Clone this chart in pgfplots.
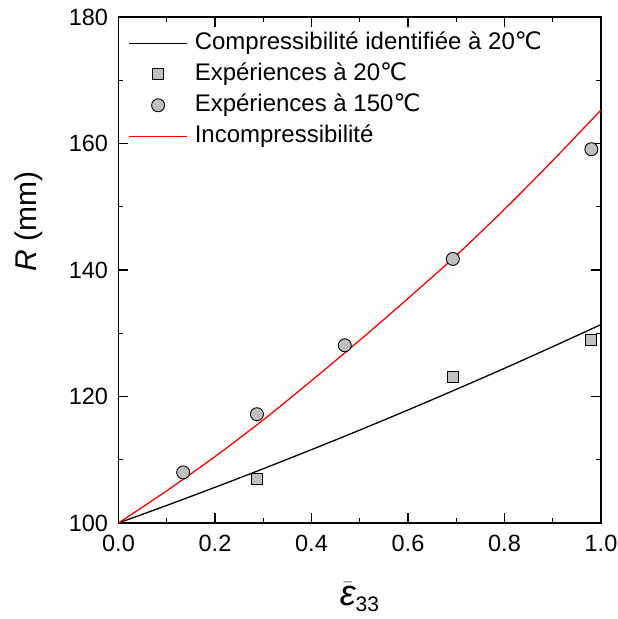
\documentclass[border=0pt]{standalone}
\usepackage{fontspec}
\setmainfont{Liberation Sans}
\newfontfamily\dejavu{DejaVu Sans}
\usepackage{pgfplots}
\pgfplotsset{compat=1.18}
\definecolor{mgray}{RGB}{192,192,192}
\newcommand{\degC}{{\dejavu ℃}}
\pgfplotsset{
  linelegend/.style={legend image code/.code={\draw[##1] (0pt,0pt) -- (58pt,0pt);}},
  marklegend/.style={legend image code/.code={\draw[##1] plot coordinates {(29pt,0pt)};}},
}
\begin{document}
\begin{tikzpicture}
\begin{axis}[
  scale only axis,
  width=482.5pt, height=506pt,
  xmin=0, xmax=1, ymin=100, ymax=180,
  xtick={0,0.2,0.4,0.6,0.8,1.0},
  ytick={100,120,140,160,180},
  minor x tick num=1, minor y tick num=1,
  xticklabel style={/pgf/number format/fixed, /pgf/number format/fixed zerofill, /pgf/number format/precision=1, yshift=-9pt},
  /pgf/number format/assume math mode=true,
  tick align=inside,
  xtick pos=both, ytick pos=both,
  major tick length=10pt, minor tick length=5pt,
  every tick/.style={black, line width=1.2pt},
  axis line style={line width=1.5pt},
  tick label style={font=\fontsize{23.5}{23.5}\selectfont},
  yticklabel style={xshift=-7pt},
  ylabel={\textit{R} (mm)},
  ylabel style={font=\fontsize{30}{30}\selectfont, at={(rel axis cs:-0.1855,0.595)}, anchor=center},
  xlabel={$\bar{\textit{ε}}_{\textup{\fontsize{21}{21}\selectfont 33}}$},
  xlabel style={font=\fontsize{36}{36}\selectfont, at={(rel axis cs:0.5,0)}, anchor=center, yshift=-74pt},
  legend cell align=left,
  legend style={draw=none, fill=none, at={(rel axis cs:0.014,0.983)}, anchor=north west,
    font=\fontsize{24}{24}\selectfont, row sep=0pt,
    nodes={inner sep=2pt, text height=20pt, text depth=7pt},
    /tikz/every odd column/.append style={column sep=5pt}},
]
\addplot[black, line width=1.3pt, smooth, linelegend]
  coordinates {(0,100) (0.1,102.78) (0.2,105.64) (0.3,108.58) (0.4,111.60) (0.5,114.69)
   (0.6,117.87) (0.7,121.13) (0.8,124.46) (0.9,127.88) (1.0,131.37)};
\addlegendentry{Compressibilité identifiée à 20\degC}
\addplot[only marks, mark=square*, mark size=5.5pt, mark options={fill=mgray, draw=black, line width=0.9pt}, marklegend]
  coordinates {(0.287,106.9) (0.693,123.05) (0.980,129.0)};
\addlegendentry{Expériences à 20\degC}
\addplot[only marks, mark=*, mark size=6.5pt, mark options={fill=mgray, draw=black, line width=0.9pt}, marklegend]
  coordinates {(0.134,108.0) (0.287,117.2) (0.469,128.1) (0.693,141.75) (0.980,159.1)};
\addlegendentry{Expériences à 150\degC}
\addplot[red, line width=1.3pt, smooth, linelegend]
  coordinates {(0,100) (0.1,105.1) (0.2,110.5) (0.3,116.3) (0.4,122.5) (0.5,128.9)
   (0.6,135.5) (0.7,142.3) (0.8,149.6) (0.9,157.3) (1.0,165.3)};
\addlegendentry{Incompressibilité}
\end{axis}
\pgfresetboundingbox
\path[use as bounding box] ([xshift=-118.5pt,yshift=-96pt]current axis.south west) rectangle ++(618pt,619pt);
\end{tikzpicture}
\end{document}
